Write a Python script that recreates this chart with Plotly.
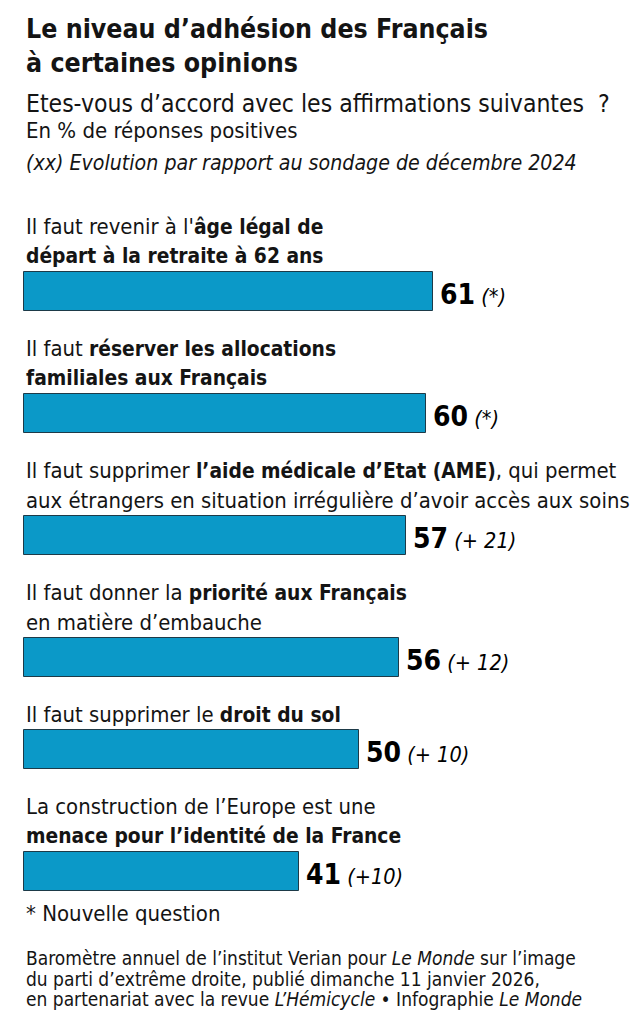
import plotly.graph_objects as go

# ---- data ----
labels = [
    ["Il faut revenir à l'<b>âge légal de</b>", "<b>départ à la retraite à 62 ans</b>"],
    ["Il faut <b>réserver les allocations</b>", "<b>familiales aux Français</b>"],
    ["Il faut supprimer <b>l’aide médicale d’Etat (AME)</b>, qui permet",
     "aux étrangers en situation irrégulière d’avoir accès aux soins"],
    ["Il faut donner la <b>priorité aux Français</b>", "en matière d’embauche"],
    ["Il faut supprimer le <b>droit du sol</b>"],
    ["La construction de l’Europe est une", "<b>menace pour l’identité de la France</b>"],
]
values = [61, 60, 57, 56, 50, 41]
changes = ["(*)", "(*)", "(+ 21)", "(+ 12)", "(+ 10)", "(+10)"]

title_lines = ["Le niveau d’adhésion des Français", "à certaines opinions"]
subtitle = "Etes-vous d’accord avec les affirmations suivantes  ?"
unit_note = "En % de réponses positives"
evo_note = "<i>(xx) Evolution par rapport au sondage de décembre 2024</i>"
footnote = "* Nouvelle question"
source_lines = [
    "Baromètre annuel de l’institut Verian pour <i>Le Monde</i> sur l’image",
    "du parti d’extrême droite, publié dimanche 11 janvier 2026,",
    "en partenariat avec la revue <i>L’Hémicycle</i> • Infographie <i>Le Monde</i>",
]

# ---- layout constants ----
W, H = 638, 1024
LEFT = 24
PX_PER_UNIT = 6.7
BAR_H = 39
LINE_H = 30
FIRST_LINE = 226
LABEL_TO_BAR = 16
BAR_TO_LABEL = 37

FONT = "DejaVu Sans Condensed, DejaVu Sans, sans-serif"
INK = "#141414"
BAR_COLOR = "#0b99c8"
EDGE = "#1d3a48"

# compute vertical positions from label line counts
label_lines_y = []
bar_centers = []
y = FIRST_LINE
for lines in labels:
    ys = [y + i * LINE_H for i in range(len(lines))]
    label_lines_y.append(ys)
    top = ys[-1] + LABEL_TO_BAR
    bar_centers.append(top + BAR_H / 2)
    y = top + BAR_H + BAR_TO_LABEL

fig = go.Figure()
fig.add_trace(go.Bar(
    x=values, y=bar_centers, orientation="h", width=BAR_H,
    marker=dict(color=BAR_COLOR, line=dict(color=EDGE, width=1)),
    hoverinfo="skip",
))

ann = []
def txt(text, yy, size, x=0, **kw):
    ann.append(dict(text=text, x=x, y=yy, xref="x", yref="y", xanchor="left",
                    yanchor="middle", showarrow=False,
                    font=dict(family=FONT, size=size, color=INK), **kw))

txt("<b>" + title_lines[0] + "</b>", 28, 26.5)
txt("<b>" + title_lines[1] + "</b>", 62, 26.5)
txt(subtitle, 103, 24.5)
txt(unit_note, 130, 22)
txt(evo_note, 162, 21.2)

def label_markup(t):
    return t.replace("<b>", "<span style='font-size:20.8px'><b>").replace("</b>", "</b></span>")

for lines, ys in zip(labels, label_lines_y):
    for t, yy in zip(lines, ys):
        txt(label_markup(t), yy, 21.9)

for v, c, yc in zip(values, changes, bar_centers):
    ann.append(dict(
        text=f"<b>{v}</b><span style='font-size:21.5px'> <i>{c}</i></span>",
        x=v, y=yc + 3, xref="x", yref="y", xanchor="left", yanchor="middle",
        xshift=5, showarrow=False, font=dict(family=FONT, size=28, color="#000")))

txt(footnote, 913, 22)
for i, s in enumerate(source_lines):
    txt(s, 958 + i * 20.5, 19)

fig.update_layout(
    width=W, height=H, margin=dict(l=0, r=0, t=0, b=0),
    paper_bgcolor="white", plot_bgcolor="white", showlegend=False,
    xaxis=dict(range=[-LEFT / PX_PER_UNIT, (W - LEFT) / PX_PER_UNIT], visible=False, fixedrange=True),
    yaxis=dict(range=[H, 0], visible=False, fixedrange=True),
    annotations=ann, bargap=0,
)
fig.write_html("out.html", config={"displayModeBar": False},
               post_script="document.body.style.margin='0';document.body.style.overflow='hidden';")
